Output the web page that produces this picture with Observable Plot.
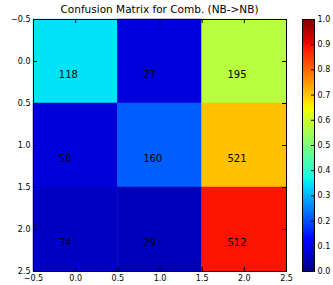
<!DOCTYPE html>
<html><head><meta charset="utf-8">
<script src="https://cdn.jsdelivr.net/npm/d3@7"></script>
<script src="https://cdn.jsdelivr.net/npm/@observablehq/plot@0.6"></script>
<style>
body{margin:0;background:#fff;}
#c{position:relative;width:333px;height:285px;font-family:"DejaVu Sans",sans-serif;}
#c svg{position:absolute;left:0;top:0;overflow:visible;}
#t{position:absolute;left:33px;width:253px;top:3px;text-align:center;font-size:10.5px;line-height:12px;color:#000;}
</style>
</head><body>
<div id="c"><div id="t">Confusion Matrix for Comb. (NB-&gt;NB)</div></div>
<script>
const rowIdx = [0, 1, 2];
const colIdx = [0, 1, 2];
const row0 = [118, 27, 195];
const row1 = [58, 160, 521];
const row2 = [34, 29, 512];
const xTicks = [-0.5, 0, 0.5, 1, 1.5, 2, 2.5];
const yTicks = [-0.5, 0, 0.5, 1, 1.5, 2, 2.5];
const cbTicks = [0, 0.1, 0.2, 0.3, 0.4, 0.5, 0.6, 0.7, 0.8, 0.9, 1.0];

const rows = [row0, row1, row2];
const cells = [];
rowIdx.forEach(r => {
  const sum = d3.sum(rows[r]);
  colIdx.forEach(c => cells.push({row: r, col: c, count: rows[r][c], v: rows[r][c] / sum}));
});

// matplotlib "jet" colormap definition
const R = [[0,0],[0.35,0],[0.66,1],[0.89,1],[1,0.5]];
const G = [[0,0],[0.125,0],[0.375,1],[0.64,1],[0.91,0],[1,0]];
const B = [[0,0.5],[0.11,1],[0.34,1],[0.65,0],[1,0]];
function seg(pts, t) {
  t = Math.max(0, Math.min(1, t));
  for (let i = 1; i < pts.length; i++) {
    if (t <= pts[i][0]) {
      const [x0, y0] = pts[i-1], [x1, y1] = pts[i];
      return y0 + (y1 - y0) * (t - x0) / (x1 - x0);
    }
  }
  return pts[pts.length-1][1];
}
const jet = t => d3.rgb(Math.round(255*seg(R,t)), Math.round(255*seg(G,t)), Math.round(255*seg(B,t))).formatHex();

const fmt = d3.format(".1f");
const W = 333, H = 285, mT = 19, mB = 14;
const ph = H - mT - mB;

const main = Plot.plot({
  width: W, height: H,
  marginLeft: 33, marginRight: 47, marginTop: mT, marginBottom: mB,
  style: {fontFamily: "DejaVu Sans, sans-serif", fontSize: "8px", color: "#000", background: "transparent"},
  x: {domain: [-0.5, 2.5], axis: null},
  y: {domain: [-0.5, 2.5], reverse: true, axis: null},
  color: {type: "linear", domain: [0, 1], interpolate: jet},
  marks: [
    Plot.rect(cells, {x1: d => d.col - 0.5, x2: d => d.col + 0.5, y1: d => d.row - 0.5, y2: d => d.row + 0.5, fill: "v", stroke: "v", strokeWidth: 0.5}),
    Plot.text(cells, {x: d => d.col - 0.2, y: d => d.row + 0.2, text: "count", textAnchor: "start", lineAnchor: "bottom", fontSize: 10, fill: "#000"}),
    Plot.tickX(xTicks, {x: d => d, insetTop: ph - 4, stroke: "#000"}),
    Plot.tickX(xTicks, {x: d => d, insetBottom: ph - 4, stroke: "#000"}),
    Plot.tickY(yTicks, {y: d => d, insetRight: 253 - 4, stroke: "#000"}),
    Plot.tickY(yTicks, {y: d => d, insetLeft: 253 - 4, stroke: "#000"}),
    Plot.axisX({anchor: "bottom", ticks: xTicks, tickSize: 0, tickPadding: 4, tickFormat: fmt}),
    Plot.axisY({anchor: "left", ticks: yTicks, tickSize: 0, tickPadding: 3, tickFormat: fmt}),
    Plot.frame({stroke: "#000"})
  ]
});

const cb = Plot.plot({
  width: W, height: H,
  marginLeft: 302, marginRight: 19, marginTop: mT, marginBottom: mB,
  style: {fontFamily: "DejaVu Sans, sans-serif", fontSize: "8px", color: "#000", background: "transparent"},
  x: {domain: [0, 1], axis: null},
  y: {domain: [0, 1], axis: null},
  marks: [
    Plot.frame({fill: "url(#jetgrad)", stroke: "none"}),
    Plot.tickY(cbTicks, {y: d => d, insetLeft: 12 - 3, stroke: "#000"}),
    Plot.axisY({anchor: "right", ticks: cbTicks, tickSize: 0, tickPadding: 3, tickFormat: fmt}),
    Plot.frame({stroke: "#000"})
  ]
});

// gradient definition for the colorbar
const ns = "http://www.w3.org/2000/svg";
const defs = document.createElementNS(ns, "defs");
const grad = document.createElementNS(ns, "linearGradient");
grad.setAttribute("id", "jetgrad");
grad.setAttribute("x1", "0"); grad.setAttribute("y1", "1");
grad.setAttribute("x2", "0"); grad.setAttribute("y2", "0");
for (let i = 0; i <= 100; i++) {
  const s = document.createElementNS(ns, "stop");
  s.setAttribute("offset", (i / 100).toString());
  s.setAttribute("stop-color", jet(i / 100));
  grad.appendChild(s);
}
defs.appendChild(grad);
cb.insertBefore(defs, cb.firstChild);

const c = document.getElementById("c");
c.insertBefore(cb, c.firstChild);
c.insertBefore(main, c.firstChild);
</script>
</body></html>
